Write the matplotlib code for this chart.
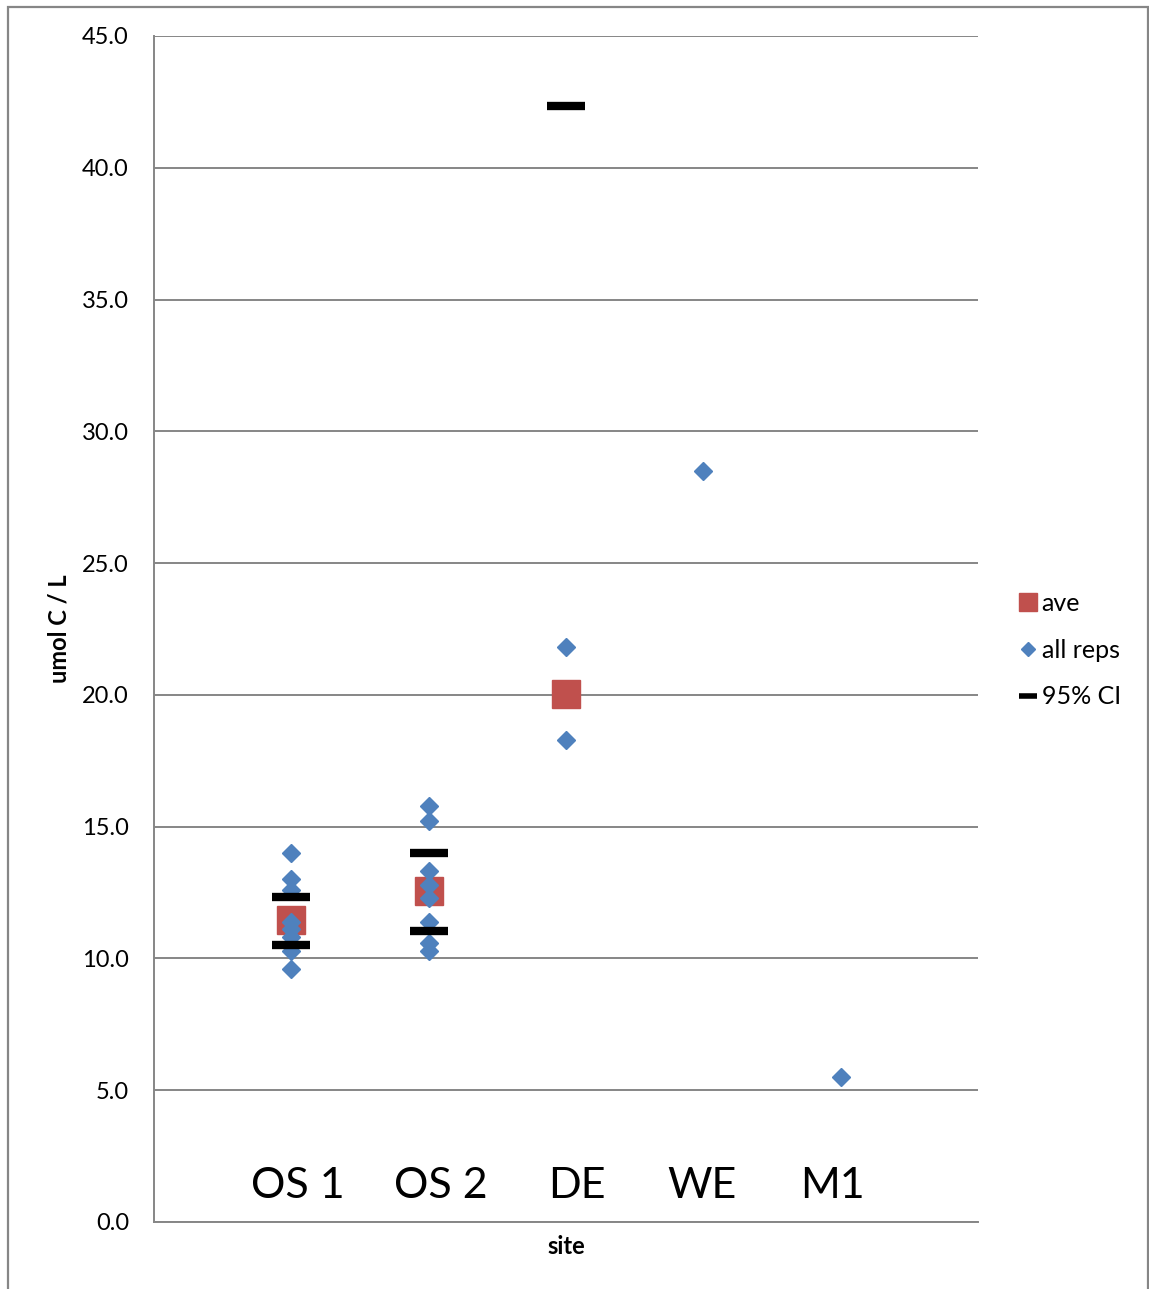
import matplotlib
matplotlib.use("Agg")
import matplotlib.pyplot as plt
from matplotlib.lines import Line2D
from matplotlib.patches import Rectangle

plt.rcParams['font.family'] = ['Lato', 'DejaVu Sans']

# data (umol C / L)
sites = ['OS 1', 'OS 2', 'DE', 'WE', 'M1']
reps = [
    [14.0, 13.0, 12.6, 11.4, 11.1, 10.8, 10.3, 9.6],
    [15.8, 15.2, 13.3, 12.8, 12.3, 11.4, 10.6, 10.3],
    [21.8, 18.3],
    [28.5],
    [5.5],
]
ave = [11.45, 12.55, 20.05, None, None]
ci_hi = [12.35, 14.0, 42.35, None, None]
ci_lo = [10.5, 11.05, -2.25, None, None]

# layout only: where the big site labels sit relative to each category
label_offsets = [0.05, 0.09, 0.08, -0.01, -0.06]

red = '#C0504D'
blue = '#4F81BD'
grid_col = '#868686'

fig = plt.figure(figsize=(11.49, 12.89), dpi=100)
ax = fig.add_axes([154 / 1149, 1 - 1222 / 1289, 824 / 1149, (1222 - 36) / 1289])

for i, s in enumerate(sites):
    x = i + 1
    if ave[i] is not None:
        ax.plot(x, ave[i], 's', ms=20, color=red, mec=red, zorder=3)
    ax.plot([x] * len(reps[i]), reps[i], 'D', ms=9.5, color=blue, mec=blue, zorder=4)
    if ci_hi[i] is not None:
        ax.plot([x, x], [ci_hi[i], ci_lo[i]], '_', ms=27, mew=6, color='black',
                linestyle='none', zorder=5)
    ax.text(x + label_offsets[i], 1.35, s, fontsize=31, ha='center', va='center')

ax.set_xlim(0, 6)
ax.set_ylim(0, 45)
ax.set_yticks([i * 5 for i in range(10)])
ax.set_yticklabels(['%.1f' % (i * 5) for i in range(10)], fontsize=17)
ax.set_xticks([])
ax.tick_params(axis='y', length=0, pad=18)
ax.yaxis.grid(True, color=grid_col, linewidth=1.4)
ax.set_axisbelow(True)
for side in ['top', 'right']:
    ax.spines[side].set_visible(False)
ax.spines['left'].set_color(grid_col)
ax.spines['bottom'].set_color(grid_col)
ax.spines['left'].set_linewidth(1.4)
ax.spines['bottom'].set_linewidth(1.4)

ax.set_ylabel('umol C / L', fontsize=17, fontweight='bold', labelpad=8)
ax.set_xlabel('site', fontsize=17, fontweight='bold', labelpad=9)

handles = [
    Line2D([], [], marker='s', ms=13, color=red, linestyle='none'),
    Line2D([], [], marker='D', ms=7.5, color=blue, linestyle='none'),
    Line2D([], [], marker='_', ms=13, mew=4, color='black', linestyle='none'),
]
fig.legend(handles, ['ave', 'all reps', '95% CI'], loc='center left',
           bbox_to_anchor=(993 / 1149, 1 - 650 / 1289), frameon=False,
           fontsize=18, labelspacing=0.95, handletextpad=0.05, handlelength=1.0)

# outer chart border
fig.add_artist(Rectangle((8 / 1149, -0.01), 1140 / 1149, 1 - 7 / 1289 + 0.01,
                         transform=fig.transFigure, fill=False,
                         edgecolor=grid_col, linewidth=1.6))

fig.savefig('out.png', dpi=100)
